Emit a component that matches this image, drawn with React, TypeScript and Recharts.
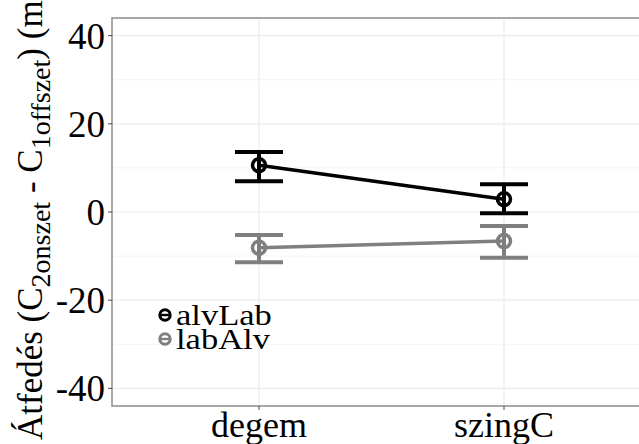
import {
  LineChart, Line, XAxis, YAxis, CartesianGrid, ErrorBar, ReferenceArea,
} from 'recharts'

const categories = ['degem', 'szingC']
const seriesNames = ['alvLab', 'labAlv']
const seriesColors = ['#000000', '#7f7f7f']

const alvLabMean = [10.6, 2.9]
const alvLabLow = [7.0, -0.3]
const alvLabHigh = [13.6, 6.3]

const labAlvMean = [-8.1, -6.6]
const labAlvLow = [-11.4, -10.4]
const labAlvHigh = [-5.2, -3.2]

const yTicks = [-40, -20, 0, 20, 40]
const yMinorTicks = [-30, -10, 10, 30]

const data = categories.map((c, i) => ({
  x: i + 1,
  name: c,
  alvLab: alvLabMean[i],
  alvLabErr: [alvLabMean[i] - alvLabLow[i], alvLabHigh[i] - alvLabMean[i]],
  labAlv: labAlvMean[i],
  labAlvErr: [labAlvMean[i] - labAlvLow[i], labAlvHigh[i] - labAlvMean[i]],
}))

const font = 'Liberation Serif, Times New Roman, DejaVu Serif, serif'

// rotated y title, subscripts done with dy shifts
function YTitle() {
  return (
    <text x={42} y={440} transform="rotate(-90, 42, 440)" textAnchor="start"
      style={{ fontFamily: font }} fontSize={35} fill="#000">
      Átfedés (C<tspan dy={8} fontSize={28}>2onszet</tspan>
      <tspan dy={-8}> - C</tspan><tspan dy={8} fontSize={28}>1offszet</tspan>
      <tspan dy={-8}>) (ms)</tspan>
    </text>
  )
}

function LegendKey({ color }: { color: string }) {
  return (
    <svg width={16} height={16} style={{ verticalAlign: 'middle' }}>
      <circle cx={8} cy={8} r={5.2} fill="none" stroke={color} strokeWidth={3} />
      <line x1={3} y1={8} x2={13} y2={8} stroke={color} strokeWidth={2.4} />
    </svg>
  )
}

const yTickStyle = { fill: '#000', fontSize: 37, style: { fontFamily: font } }
const xTickStyle = { fill: '#000', fontSize: 36, style: { fontFamily: font } }

export default function App() {
  return (
    <div style={{
      position: 'absolute', left: 0, top: 0, width: 639, height: 444,
      overflow: 'hidden', background: '#fff', fontFamily: font,
    }}>
      <LineChart width={651} height={444} data={data}
        margin={{ top: 18, right: 0, bottom: 0, left: 0 }}
        style={{ fontFamily: font }}>
        <CartesianGrid horizontalValues={yMinorTicks} vertical={false}
          stroke="#f3f3f3" strokeWidth={0.8} />
        <CartesianGrid horizontalValues={yTicks} verticalValues={[1, 2]}
          stroke="#ebebeb" strokeWidth={1.2} />
        <XAxis type="number" dataKey="x" domain={[0.4, 2.6]} ticks={[1, 2]}
          tickFormatter={(v) => categories[v - 1]} axisLine={false}
          tickSize={4} tickMargin={1} tickLine={{ stroke: '#4d4d4d' }}
          tick={xTickStyle} height={38} allowDataOverflow />
        <YAxis type="number" domain={[-44, 44]} ticks={yTicks} width={112}
          axisLine={false} tickSize={4} tickMargin={3}
          tickLine={{ stroke: '#4d4d4d' }} tick={yTickStyle}
          label={{ content: YTitle }} allowDataOverflow />
        <ReferenceArea x1={0.4} x2={2.6} y1={-44} y2={44} fill="none"
          stroke="#8c8c8c" strokeWidth={1.5} />
        <Line dataKey="alvLab" name={seriesNames[0]} stroke={seriesColors[0]}
          strokeWidth={3.5} isAnimationActive={false}
          dot={{ r: 6.5, fill: 'none', stroke: seriesColors[0], strokeWidth: 3.5 }}>
          <ErrorBar dataKey="alvLabErr" direction="y" width={24} strokeWidth={4}
            stroke={seriesColors[0]} isAnimationActive={false} />
        </Line>
        <Line dataKey="labAlv" name={seriesNames[1]} stroke={seriesColors[1]}
          strokeWidth={3.5} isAnimationActive={false}
          dot={{ r: 6.5, fill: 'none', stroke: seriesColors[1], strokeWidth: 3.5 }}>
          <ErrorBar dataKey="labAlvErr" direction="y" width={24} strokeWidth={4}
            stroke={seriesColors[1]} isAnimationActive={false} />
        </Line>
      </LineChart>
      <div style={{
        position: 'absolute', left: 157, top: 303, fontSize: 30, lineHeight: '24px',
        color: '#000',
      }}>
        {seriesNames.map((n, i) => (
          <div key={n} style={{ display: 'flex', alignItems: 'center', height: 24 }}>
            <LegendKey color={seriesColors[i]} />
            <span style={{
              marginLeft: 3, display: 'inline-block',
              transform: 'scaleX(1.15)', transformOrigin: 'left center',
            }}>{n}</span>
          </div>
        ))}
      </div>
    </div>
  )
}
